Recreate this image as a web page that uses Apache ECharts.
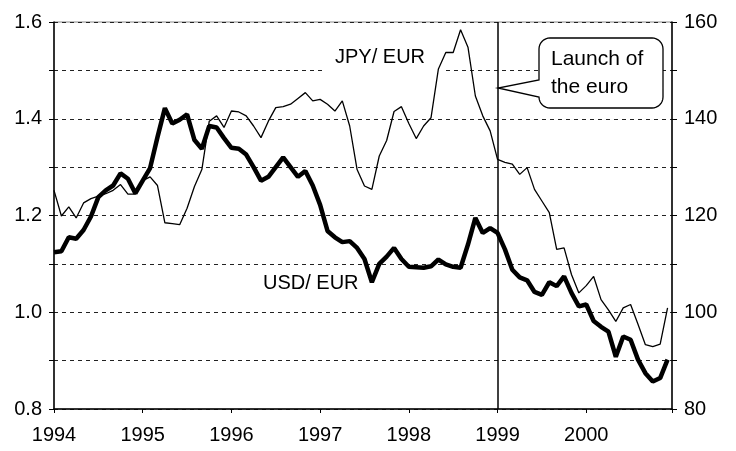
<!DOCTYPE html>
<html>
<head>
<meta charset="utf-8">
<script src="https://cdn.jsdelivr.net/npm/echarts@6/dist/echarts.min.js"></script>
<style>
  html, body { margin: 0; padding: 0; background: #fff; }
  #chart { width: 736px; height: 451px; }
</style>
</head>
<body>
<div id="chart"></div>
<script>
// monthly data, Jan 1994 .. Dec 2000 (index 0 = Jan 1994)
var startYear = 1994;
var yearTicks = [1994, 1995, 1996, 1997, 1998, 1999, 2000];
var euroLaunch = 60; // Jan 1999

// USD per EUR (left axis)
var usd = [
    1.124, 1.126, 1.155, 1.152, 1.170, 1.198, 1.238, 1.252, 1.262, 1.287, 1.276, 1.246,
    1.272, 1.298, 1.362, 1.422, 1.390, 1.398, 1.409, 1.356, 1.338, 1.385, 1.382, 1.360,
    1.340, 1.338, 1.326, 1.300, 1.272, 1.280, 1.300, 1.320, 1.300, 1.280, 1.292, 1.262,
    1.222, 1.168, 1.155, 1.145, 1.147, 1.133, 1.110, 1.062, 1.100, 1.115, 1.133, 1.110,
    1.094, 1.093, 1.092, 1.095, 1.109, 1.099, 1.094, 1.092, 1.140, 1.195, 1.164, 1.174,
    1.164, 1.130, 1.088, 1.072, 1.066, 1.042, 1.036, 1.062, 1.054, 1.074, 1.040, 1.012,
    1.016, 0.982, 0.970, 0.960, 0.908, 0.950, 0.943, 0.902, 0.874, 0.857, 0.864, 0.902
];

// JPY per EUR (right axis)
var jpy = [
    125.2, 119.9, 121.8, 119.5, 122.6, 123.5, 124.0, 124.5, 125.2, 126.4, 124.4, 124.4,
    127.2, 128.0, 126.2, 118.5, 118.3, 118.1, 121.5, 126.0, 129.5, 139.5, 140.6, 138.2,
    141.6, 141.4, 140.6, 138.5, 136.1, 139.5, 142.3, 142.5, 143.0, 144.2, 145.4, 143.7,
    144.0, 143.0, 141.6, 143.7, 138.5, 129.5, 126.1, 125.4, 132.3, 135.5, 141.5, 142.5,
    139.0, 135.9, 138.5, 140.2, 150.3, 153.7, 153.7, 158.4, 154.8, 144.7, 140.6, 137.5,
    131.6, 131.0, 130.6, 128.5, 129.9, 125.4, 123.0, 120.6, 113.0, 113.3, 107.8, 104.0,
    105.5, 107.4, 102.6, 100.5, 98.1, 100.9, 101.6, 97.5, 93.3, 92.9, 93.4, 100.9
];

var font = 'Liberation Sans, Arial, sans-serif';

// outline of the speech bubble: rounded box with a tail on the left
function bubblePoints(x0, y0, x1, y1, r, tip, tailTop, tailBottom) {
    var pts = [];
    function arc(cx, cy, a0, a1) {
        for (var k = 0; k <= 8; k++) {
            var a = (a0 + (a1 - a0) * k / 8) * Math.PI / 180;
            pts.push([cx + r * Math.cos(a), cy + r * Math.sin(a)]);
        }
    }
    arc(x1 - r, y0 + r, -90, 0);
    arc(x1 - r, y1 - r, 0, 90);
    arc(x0 + r, y1 - r, 90, 180);
    pts.push([x0, tailBottom]);
    pts.push(tip);
    pts.push([x0, tailTop]);
    arc(x0 + r, y0 + r, 180, 270);
    return pts;
}

var myChart = echarts.init(document.getElementById('chart'));

var option = {
    animation: false,
    backgroundColor: '#fff',
    grid: {
        left: 54,
        right: 64,
        top: 22,
        bottom: 42,
        show: true,
        borderColor: '#888',
        borderWidth: 1
    },
    xAxis: {
        type: 'value',
        min: 0,
        max: 83.6,
        interval: 12,
        axisLine: { lineStyle: { color: '#000', width: 1.5 } },
        axisTick: { length: 4, lineStyle: { color: '#000' } },
        axisLabel: {
            margin: 16,
            color: '#000',
            fontSize: 20,
            fontFamily: font,
            formatter: function (v) {
                var y = startYear + v / 12;
                return yearTicks.indexOf(y) >= 0 ? String(y) : '';
            }
        },
        splitLine: { show: false }
    },
    yAxis: [{
        type: 'value',
        min: 0.8,
        max: 1.6,
        interval: 0.1,
        axisLine: { show: true, lineStyle: { color: '#000', width: 1.5 } },
        axisTick: { show: true, length: 5, lineStyle: { color: '#000' } },
        axisLabel: {
            margin: 12,
            color: '#000',
            fontSize: 20,
            fontFamily: font,
            formatter: function (v) {
                return Math.round(v * 10) % 2 === 0 ? v.toFixed(1) : '';
            }
        },
        splitLine: {
            show: true,
            lineStyle: { color: '#222', width: 1, type: [4, 4] }
        }
    }, {
        type: 'value',
        min: 80,
        max: 160,
        interval: 10,
        position: 'right',
        axisLine: { show: true, lineStyle: { color: '#000', width: 1.5 } },
        axisTick: { show: true, length: 5, lineStyle: { color: '#000' } },
        axisLabel: {
            margin: 12,
            color: '#000',
            fontSize: 20,
            fontFamily: font,
            formatter: function (v) {
                return Math.round(v) % 20 === 0 ? String(Math.round(v)) : '';
            }
        },
        splitLine: { show: false }
    }],
    series: [{
        name: 'USD/ EUR',
        type: 'line',
        yAxisIndex: 0,
        data: usd.map(function (v, i) { return [i, v]; }),
        symbol: 'none',
        z: 4,
        lineStyle: { color: '#000', width: 4.5 },
        markLine: {
            silent: true,
            symbol: 'none',
            label: { show: false },
            lineStyle: { color: '#000', width: 1.5, type: 'solid' },
            data: [{ xAxis: euroLaunch }]
        }
    }, {
        name: 'JPY/ EUR',
        type: 'line',
        yAxisIndex: 1,
        data: jpy.map(function (v, i) { return [i, v]; }),
        symbol: 'none',
        z: 3,
        lineStyle: { color: '#000', width: 1.3 }
    }],
    graphic: [
        // white patch behind the JPY label (covers the grid line)
        {
            type: 'rect',
            z: 1,
            shape: { x: 325, y: 44, width: 120, height: 30 },
            style: { fill: '#fff' }
        },
        {
            type: 'text',
            z: 5,
            x: 335,
            y: 47,
            style: { text: 'JPY/ EUR', font: '20px ' + font, fill: '#000' }
        },
        {
            type: 'text',
            z: 5,
            x: 263,
            y: 273,
            style: { text: 'USD/ EUR', font: '20px ' + font, fill: '#000' }
        },
        // callout
        {
            type: 'polygon',
            z: 5,
            shape: { points: bubblePoints(539, 38, 663, 108, 11, [498, 88], 80, 97) },
            style: { fill: '#fff', stroke: '#000', lineWidth: 1.3 }
        },
        {
            type: 'text',
            z: 6,
            x: 551,
            y: 45,
            style: { text: 'Launch of\nthe euro', font: '21px ' + font, fill: '#000', lineHeight: 28 }
        }
    ]
};

myChart.setOption(option);
</script>
</body>
</html>
